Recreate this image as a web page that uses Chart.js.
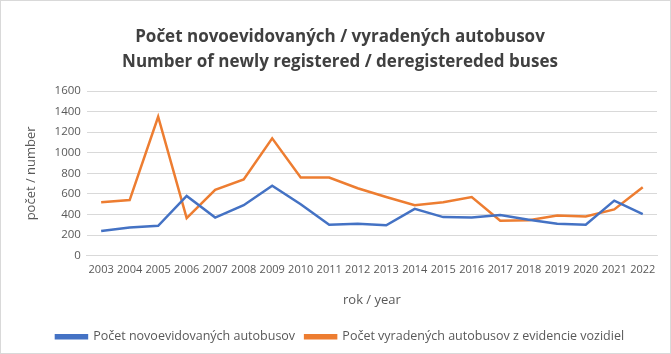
<!DOCTYPE html>
<html>
<head>
<meta charset="utf-8">
<script src="https://cdn.jsdelivr.net/npm/chart.js@4/dist/chart.umd.min.js"></script>
<style>
  html, body { margin: 0; padding: 0; background: #fff; }
  #wrap { width: 669px; height: 352px; border: 1px solid #d9d9d9; }
</style>
</head>
<body>
<div id="wrap"><canvas id="myChart" width="669" height="352"></canvas></div>
<script>
const years = ['2003', '2004', '2005', '2006', '2007', '2008', '2009', '2010', '2011', '2012',
    '2013', '2014', '2015', '2016', '2017', '2018', '2019', '2020', '2021', '2022'];
const newlyRegistered = [240, 275, 290, 580, 370, 490, 680, 500, 300, 310,
    295, 455, 375, 370, 395, 350, 310, 300, 535, 405];
const deregistered = [520, 540, 1350, 365, 640, 740, 1140, 760, 760, 655,
    570, 490, 520, 570, 340, 345, 390, 380, 450, 665];

const fontFamily = '"Open Sans", "Noto Sans", sans-serif';
const grey = '#595959';

const data = {
    labels: years,
    datasets: [{
        label: 'Počet novoevidovaných autobusov',
        data: newlyRegistered,
        borderColor: '#4472c4',
        backgroundColor: '#4472c4',
        borderWidth: 2.5,
        pointRadius: 0,
        tension: 0
    }, {
        label: 'Počet vyradených autobusov z evidencie vozidiel',
        data: deregistered,
        borderColor: '#ed7d31',
        backgroundColor: '#ed7d31',
        borderWidth: 2.5,
        pointRadius: 0,
        tension: 0
    }]
};

const config = {
    type: 'line',
    data: data,
    options: {
        responsive: false,
        animation: false,
        layout: { padding: { left: 22, right: 13, top: 23, bottom: 0 } },
        plugins: {
            title: {
                display: true,
                text: ['Počet novoevidovaných / vyradených autobusov', 'Number of newly registered / deregistereded buses'],
                color: '#404040',
                font: { family: fontFamily, size: 17, weight: 'bold', lineHeight: 1.5 },
                padding: { top: 0, bottom: 16 }
            },
            legend: {
                position: 'bottom',
                labels: {
                    color: grey,
                    font: { family: fontFamily, size: 12.5 },
                    boxWidth: 31,
                    boxHeight: 3,
                    padding: 10
                }
            },
            tooltip: { enabled: false }
        },
        scales: {
            x: {
                offset: true,
                grid: { display: false },
                border: { color: '#d9d9d9' },
                ticks: {
                    color: grey,
                    font: { family: fontFamily, size: 11 },
                    maxRotation: 0,
                    autoSkip: false,
                    padding: 0
                },
                title: {
                    display: true,
                    text: 'rok / year',
                    color: grey,
                    font: { family: fontFamily, size: 13 },
                    padding: { top: 16, bottom: 12 }
                }
            },
            y: {
                min: 0,
                max: 1600,
                border: { display: false },
                grid: { color: '#d9d9d9', drawTicks: false },
                ticks: {
                    stepSize: 200,
                    color: grey,
                    font: { family: fontFamily, size: 11.5 },
                    padding: 6,
                    callback: function (value) { return String(value); }
                },
                title: {
                    display: true,
                    text: 'počet / number',
                    color: grey,
                    font: { family: fontFamily, size: 13 },
                    padding: { top: 0, bottom: 10 }
                }
            }
        }
    }
};

const myChart = new Chart(
    document.getElementById('myChart'),
    config
);
</script>
</body>
</html>
